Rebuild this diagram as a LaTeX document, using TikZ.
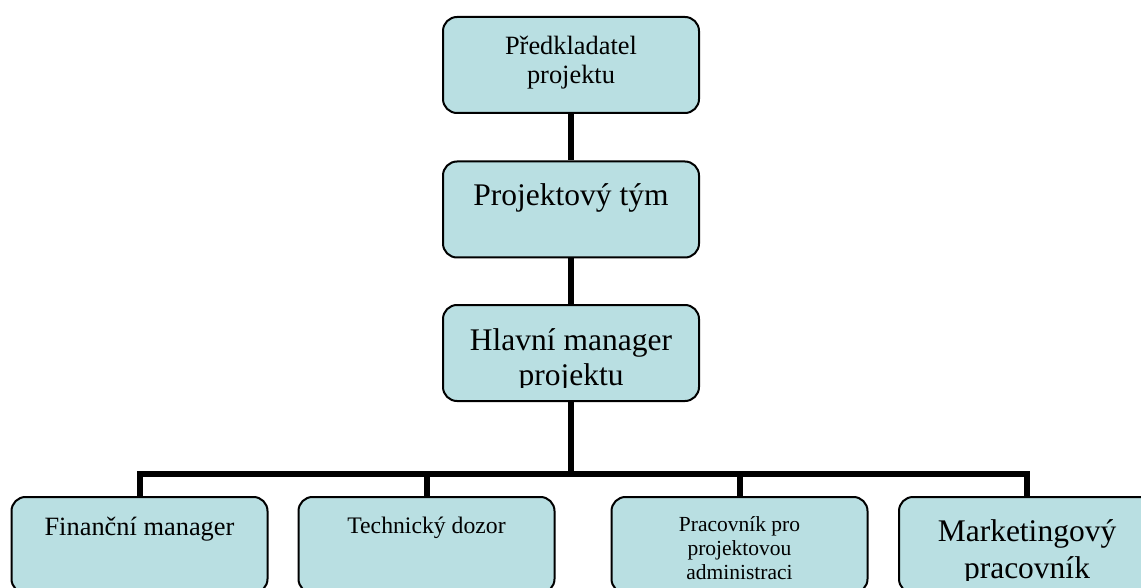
\documentclass[tikz,border=0pt]{standalone}
\usepackage{fontspec}
\setmainfont{Liberation Serif}
\definecolor{boxfill}{RGB}{185,223,226}
\tikzset{
  box/.style={draw=black, line width=2pt, fill=boxfill, rounded corners=14pt,
    minimum width=256pt, minimum height=96pt, inner sep=0pt},
  conn/.style={draw=black, line width=6pt, line join=miter},
  txt/.style={anchor=base, inner sep=0pt, text=black},
  fbig/.style={font=\fontsize{31.5}{36}\selectfont},
  fmid/.style={font=\fontsize{26.4}{30}\selectfont},
  fsmall/.style={font=\fontsize{23.7}{27}\selectfont},
  ftiny/.style={font=\fontsize{21.5}{24}\selectfont}
}
\begin{document}
\begin{tikzpicture}[x=1pt,y=-1pt]
\useasboundingbox (0,0) rectangle (1141,588);
\clip (0,0) rectangle (1141,588);
% boxes (positions)
\coordinate (bus) at (571,474);
\node[box, draw=none, fill=none] (b1) at (571,65) {};
\node[box, draw=none, fill=none] (b2) at (571,209.5) {};
\node[box, draw=none, fill=none] (b3) at (571,353) {};
\node[box, draw=none, fill=none] (b4) at (139.5,545) {};
\node[box, draw=none, fill=none] (b5) at (426.5,545) {};
\node[box, draw=none, fill=none] (b6) at (739.5,545) {};
\node[box, draw=none, fill=none] (b7) at (1027,545) {};
% connectors
\draw[conn] (b1.south) -- (b2.north);
\draw[conn] (b2.south) -- (b3.north);
\draw[conn] (b3.south) -- (bus);
\draw[conn] (bus) -| (b4.north);
\draw[conn] (bus) -| (b5.north);
\draw[conn] (bus) -| (b6.north);
\draw[conn] (bus) -| (b7.north);
% visible boxes
\node[box] (B1) at (b1) {};
\node[box] (B2) at (b2) {};
\node[box] (B3) at (b3) {};
\node[box] (B4) at (b4) {};
\node[box] (B5) at (b5) {};
\node[box] (B6) at (b6) {};
\node[box] (B7) at (b7) {};
% texts
\node[txt, fmid] (t1a) at (571,55) {Předkladatel};
\node[txt, fmid] (t1b) at (571,84) {projektu};
\node[txt, fbig] (t2) at (571,206) {Projektový tým};
\begin{scope}
\clip (443,305) rectangle (699,387);
\node[txt, fbig] (t3a) at (571,350) {Hlavní manager};
\node[txt, fbig] (t3b) at (571,385.5) {projektu};
\end{scope}
\begin{scope}
\clip (0,497) rectangle (1141,580);
\node[txt, fmid] (t4) at (139.5,535) {Finanční manager};
\node[txt, fsmall] (t5) at (426.5,533) {Technický dozor};
\node[txt, ftiny] (t6a) at (739.5,531) {Pracovník pro};
\node[txt, ftiny] (t6b) at (739.5,555) {projektovou};
\node[txt, ftiny] (t6c) at (739.5,579) {administraci};
\node[txt, fbig] (t7a) at (1027,541) {Marketingový};
\node[txt, fbig] (t7b) at (1027,578) {pracovník};
\end{scope}
\end{tikzpicture}
\end{document}
